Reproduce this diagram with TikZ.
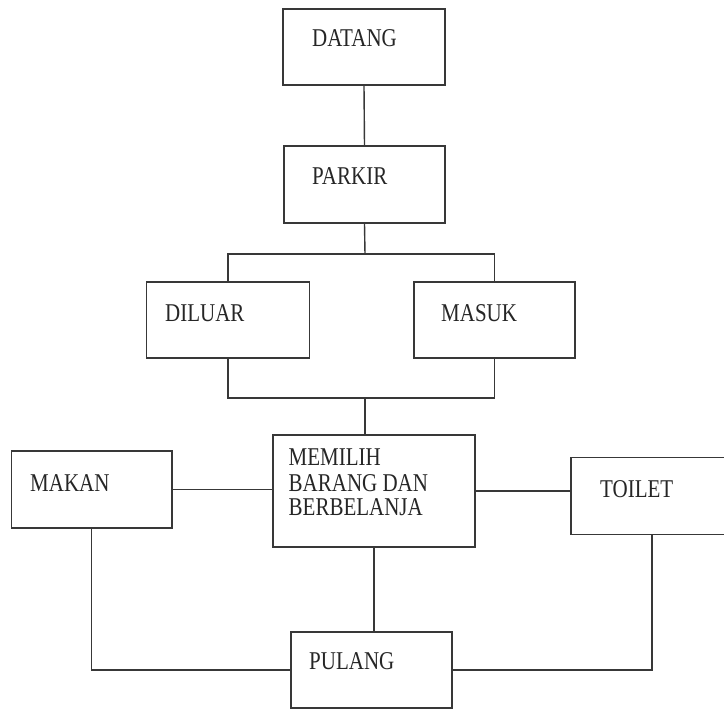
\documentclass[tikz,border=0pt]{standalone}
\usepackage{fontspec}
\setmainfont{Liberation Serif}[FakeStretch=0.82]
\begin{document}
\begin{tikzpicture}[x=1pt,y=-1pt,
  box/.style={draw=black!78, line width=1.4pt, rectangle, inner sep=0pt},
  conn/.style={draw=black!78, line width=1.4pt},
  lbl/.style={inner sep=0pt, anchor=base west, text=black!85, font=\fontsize{25.6}{25.6}\selectfont}]
\useasboundingbox (0,0) rectangle (724,709);
\clip (0,0) rectangle (724,709);
\fill[white] (0,0) rectangle (724,709);
% boxes
\node[box, minimum width=162pt, minimum height=76pt] (datang) at (364,47) {};
\node[box, minimum width=161pt, minimum height=77pt] (parkir) at (364.5,184.5) {};
\node[box, minimum width=163pt, minimum height=76pt] (diluar) at (228,320) {};
\node[box, minimum width=161pt, minimum height=76pt] (masuk) at (494.5,320) {};
\node[box, minimum width=202pt, minimum height=112pt] (memilih) at (374,491) {};
\node[box, minimum width=160.5pt, minimum height=77pt] (makan) at (91.75,489.5) {};
\node[box, minimum width=162pt, minimum height=77pt] (toilet) at (652,495.75) {};
\node[box, minimum width=161pt, minimum height=76pt] (pulang) at (371.5,670) {};
% texts
\node[lbl] (tdatang) at (312,47) {DATANG};
\node[lbl] (tparkir) at (312,185) {PARKIR};
\node[lbl] (tdiluar) at (165,321) {DILUAR};
\node[lbl] (tmasuk) at (441,321) {MASUK};
\node[lbl] (tmakan) at (30,491) {MAKAN};
\node[lbl] (tmem1) at (288.5,465) {MEMILIH};
\node[lbl] (tmem2) at (288.5,491) {BARANG DAN};
\node[lbl] (tmem3) at (288.5,515.5) {BERBELANJA};
\node[lbl] (ttoilet) at (600,497) {TOILET};
\node[lbl] (tpulang) at (309,669) {PULANG};
% junctions
\coordinate (j1) at (365,254);
\coordinate (j2) at (365,398);
% connectors
\draw[conn] (datang.south) -- (parkir.north);
\draw[conn] (parkir.south) -- (j1);
\draw[conn] (diluar.north) |- (j1) -| (masuk.north);
\draw[conn] (diluar.south) |- (j2) -| (masuk.south);
\draw[conn] (j2) -- (j2 |- memilih.north);
\draw[conn] (makan.east) -- (makan.east -| memilih.west);
\draw[conn] (memilih.east) -- (memilih.east -| toilet.west);
\draw[conn] (memilih.south) -- (memilih.south |- pulang.north);
\draw[conn] (makan.south) |- (pulang.west);
\draw[conn] (toilet.south) |- (pulang.east);
\end{tikzpicture}
\end{document}
